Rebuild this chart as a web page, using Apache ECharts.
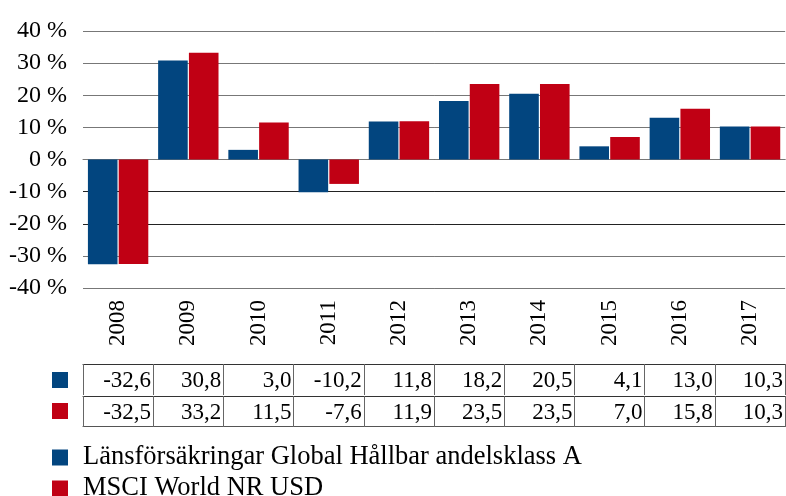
<!DOCTYPE html>
<html>
<head>
<meta charset="utf-8">
<script src="https://cdn.jsdelivr.net/npm/echarts@6/dist/echarts.min.js"></script>
<style>
html,body{margin:0;padding:0;background:#fff;}
#c{width:786px;height:496px;}
</style>
</head>
<body>
<div id="c"></div>
<script>
var years = ['2008','2009','2010','2011','2012','2013','2014','2015','2016','2017'];
var fundName = 'Länsförsäkringar Global Hållbar andelsklass A';
var indexName = 'MSCI World NR USD';
var fundValues = [-32.6, 30.8, 3.0, -10.2, 11.8, 18.2, 20.5, 4.1, 13.0, 10.3];
var indexValues = [-32.5, 33.2, 11.5, -7.6, 11.9, 23.5, 23.5, 7.0, 15.8, 10.3];
var yTicks = [-40, -30, -20, -10, 0, 10, 20, 30, 40];

var FONT = '"Liberation Serif", "Times New Roman", serif';
var BLUE = '#02457f';
var RED = '#c00014';

function fmt(v){ return v.toFixed(1).replace('.', ','); }

var chart = echarts.init(document.getElementById('c'), null, {renderer:'canvas'});

function tableAxis(vals, offset){
  return {
    type:'category', data: vals.map(fmt), position:'bottom', offset: offset, gridIndex:0,
    axisLine:{show:true, lineStyle:{color:'#333', width:1}},
    axisTick:{show:true, length:31, lineStyle:{color:'#666', width:1}},
    axisLabel:{
      show:true, margin:5, interval:0,
      formatter: function(v){ return '{a|' + v + '}'; },
      rich:{a:{width:66, align:'right', fontFamily:FONT, fontSize:23, color:'#000'}}
    },
    splitLine:{show:false}
  };
}

function nameLegend(name, top){
  return {
    data:[name], orient:'horizontal', left:52, top:top, padding:0,
    icon:'rect', itemWidth:16, itemHeight:16,
    textStyle:{fontFamily:FONT, fontSize:26.5, lineHeight:16, color:'#000', padding:[0,0,0,10]},
    selectedMode:false
  };
}

var option = {
  animation:false,
  backgroundColor:'#fff',
  grid:{left:83, right:0, top:31, bottom:208, containLabel:false},
  legend:[
    nameLegend(fundName, 444),
    nameLegend(indexName, 475),
    {
      data:[fundName, indexName], orient:'vertical', left:52, top:372, padding:0,
      icon:'rect', itemWidth:16, itemHeight:16, itemGap:15,
      formatter:function(){ return ''; },
      textStyle:{fontSize:1},
      selectedMode:false
    }
  ],
  xAxis:[
    {
      type:'category', data:years, position:'bottom',
      axisLine:{show:true, lineStyle:{color:'#777', width:1}},
      axisTick:{show:false},
      axisLabel:{rotate:90, margin:12, interval:0, fontFamily:FONT, fontSize:23, color:'#000'},
      splitLine:{show:false}
    },
    tableAxis(fundValues, 76),
    tableAxis(indexValues, 108),
    {
      type:'category', data:years, position:'bottom', offset:138,
      axisLine:{show:true, lineStyle:{color:'#555', width:1}},
      axisTick:{show:false}, axisLabel:{show:false}, splitLine:{show:false}
    }
  ],
  yAxis:{
    type:'value', min:yTicks[0], max:yTicks[yTicks.length-1], interval:10,
    axisLine:{show:false}, axisTick:{show:false},
    axisLabel:{formatter:function(v){ return v + ' %'; }, margin:16,
      fontFamily:FONT, fontSize:24, color:'#000'},
    splitLine:{show:true, lineStyle:{width:1,
      color:['#777','#777','#222','#222','#000','#777','#777','#777','#777']}}
  },
  series:[
    {name:fundName, type:'bar', data:fundValues, itemStyle:{color:BLUE},
     barCategoryGap:'14%', barGap:'4%'},
    {name:indexName, type:'bar', data:indexValues, itemStyle:{color:RED},
     barCategoryGap:'14%', barGap:'4%'}
  ]
};
chart.setOption(option);
</script>
</body>
</html>
